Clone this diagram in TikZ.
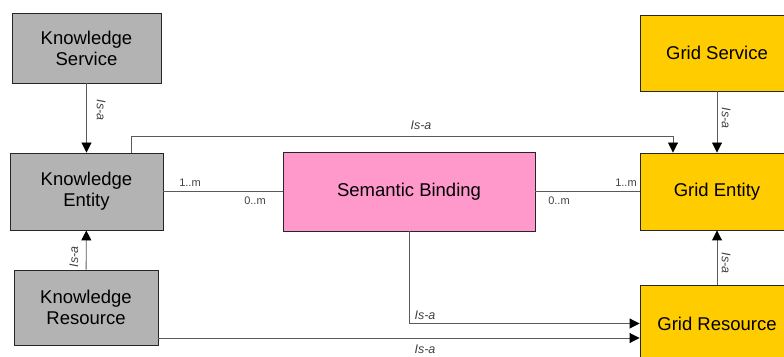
\documentclass[tikz,border=0pt]{standalone}
\usepackage{fontspec}
\setmainfont{Liberation Sans}
\usetikzlibrary{arrows.meta,shapes}
\usetikzlibrary{positioning}
\definecolor{fg}{rgb}{0,0,0}
\definecolor{know}{HTML}{B3B3B3}
\definecolor{bind}{HTML}{FF99CC}
\definecolor{grid}{HTML}{FFCC00}
\definecolor{wire}{HTML}{5A5A5A}
\tikzstyle{box}=[draw=black!85, line width=0.9pt, inner sep=0pt, align=center,
text=fg, font=\fontsize{18.5}{21}\selectfont]
\tikzstyle{kbox}=[box, fill=know, minimum width=150pt, minimum height=76pt]
\tikzstyle{gbox}=[box, fill=grid, minimum width=154pt, minimum height=77pt]
\tikzstyle{bbox}=[box, fill=bind, minimum width=252pt, minimum height=79pt]
\tikzstyle{link}=[draw=wire, line width=0.9pt]
\tikzstyle{isa}=[link, -{Triangle[length=10pt,width=10pt,color=black]}]
\tikzstyle{lbl}=[text=black!75, inner sep=0pt, font=\fontsize{12.5}{14}\selectfont\itshape]
\tikzstyle{mult}=[text=black!75, inner sep=0pt, font=\fontsize{11}{13}\selectfont]

\begin{document}
\begin{tikzpicture}[x=1pt, y=1pt]

    \useasboundingbox (0,0) rectangle (784,356);
    \clip (0,0) rectangle (784,356);

    % knowledge side
    \node[kbox, minimum width=149pt, minimum height=70pt] (KS) at (86.5,308) {Knowledge\\Service};
    \node[kbox, minimum width=153pt, minimum height=77pt] (KE) at (86.5,164.5) {Knowledge\\Entity};
    \node[kbox, minimum width=144pt, minimum height=75pt] (KR) at (86,48.5) {Knowledge\\Resource};

    % binding in the middle
    \node[bbox] (SB) at (409,164.5) {Semantic Binding};

    % grid side
    \node[gbox, minimum height=76pt] (GS) at (717,303) {Grid Service};
    \node[gbox] (GE) at (717,164.5) {Grid Entity};
    \node[gbox] (GR) at (717,32.5) {Grid Resource};

    \draw[isa] (KS) -- (KE);
    \node[lbl, rotate=-90] at (101,246) {Is-a};
    \draw[isa] (KR) -- (KE);
    \node[lbl, rotate=90] at (74,99) {Is-a};

    \draw[isa] (GS) -- (GE);
    \node[lbl, rotate=-90] at (726,238) {Is-a};
    \draw[isa] (GR) -- (GE);
    \node[lbl, rotate=-90] at (726,93) {Is-a};

    \draw[isa] ([xshift=44.5pt]KE.north) |- ++(0,16) -| ([xshift=-44pt]GE.north);
    \node[lbl] at (421,231) {Is-a};

    % associations
    \draw[link] (KE) -- (SB);
    \node[mult] at (190,173) {1..m};
    \node[mult] at (255,155) {0..m};
    \draw[link] (SB) -- (GE);
    \node[mult] at (559,155) {0..m};
    \node[mult] at (626,173) {1..m};

    \draw[isa] (SB.south) |- (GR.west);
    \node[lbl] at (425,41) {Is-a};

    \coordinate (low) at (0,18);
    \draw[isa] (KR.east |- low) -- (GR.west |- low);
    \node[lbl] at (425,7) {Is-a};

\end{tikzpicture}
\end{document}
